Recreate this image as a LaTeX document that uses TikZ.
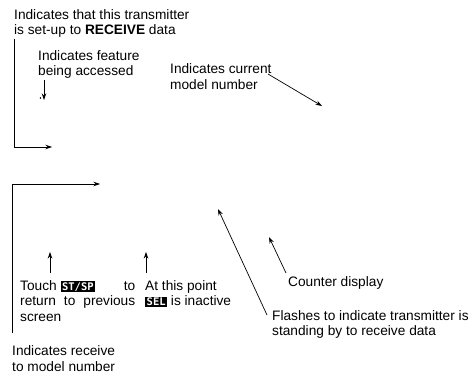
\documentclass[tikz,border=0pt]{standalone}
\usepackage{fontspec}
\setmainfont{Liberation Sans}
\newfontfamily\lcdfont{DejaVu Sans Mono}
\usetikzlibrary{arrows.meta}
\newcommand{\lcdkey}[1]{\tikz[baseline=(k.base)]\node[fill=black,text=white,inner xsep=1.5pt,inner ysep=1pt,font=\lcdfont\fontsize{10.5}{10.5}\selectfont\bfseries](k){#1};}
\begin{document}
\begin{tikzpicture}[x=1pt,y=-1pt,
 lbl/.style={anchor=north west,inner sep=0pt,align=left,font=\fontsize{13.7}{15.5}\selectfont},
 arr/.style={line width=0.7pt,-{Stealth[length=6.5pt,width=4.5pt]}},
 ln/.style={line width=0.7pt}]
\useasboundingbox (0,0) rectangle (472,373);
% labels
\node[lbl] (t1) at (14,9) {Indicates that this transmitter\\is set-up to \textbf{RECEIVE} data};
\node[lbl] (t2) at (38,50) {Indicates feature\\being accessed};
\node[lbl] (t3) at (170,63.5) {Indicates current\\model number};
\node[lbl] (t4) at (288,276) {Counter display};
\node[lbl] (t5) at (272,310) {Flashes to indicate transmitter is\\standing by to receive data};
\node[lbl] (t6) at (20,280) {\makebox[115pt][l]{Touch \lcdkey{ST/SP}\hfill to}\\\makebox[115pt][s]{return to previous}\\screen};
\node[lbl] (t7) at (145,280) {At this point\\\lcdkey{SEL} is inactive};
\node[lbl] (t8) at (12,345.5) {Indicates receive\\to model number};
% coordinates
\coordinate (a1s) at (14,39);
\coordinate (a1c) at (14,147);
\coordinate (a1e) at (52,147);
\coordinate (a2s) at (44,80);
\coordinate (a2e) at (44,100);
\coordinate (a3s) at (268,74);
\coordinate (a3e) at (322,106);
\coordinate (a4s) at (12,333);
\coordinate (a4c) at (12,184);
\coordinate (a4e) at (100,184);
\coordinate (a5s) at (50,273);
\coordinate (a5e) at (50,252);
\coordinate (a6s) at (146,273);
\coordinate (a6e) at (146,252);
\coordinate (a7s) at (267,315);
\coordinate (a7e) at (218,209);
\coordinate (a8s) at (286,273);
\coordinate (a8e) at (269,237);
\coordinate (dot) at (40.5,98);
% connectors
\draw[arr] (a1s) -- (a1c) -- (a1e);
\draw[arr] (a2s) -- (a2e);
\fill (dot) circle (0.9pt);
\draw[arr] (a3s) -- (a3e);
\draw[arr] (a4s) -- (a4c) -- (a4e);
\draw[arr] (a5s) -- (a5e);
\draw[arr] (a6s) -- (a6e);
\draw[arr] (a7s) -- (a7e);
\draw[arr] (a8s) -- (a8e);
\end{tikzpicture}
\end{document}
